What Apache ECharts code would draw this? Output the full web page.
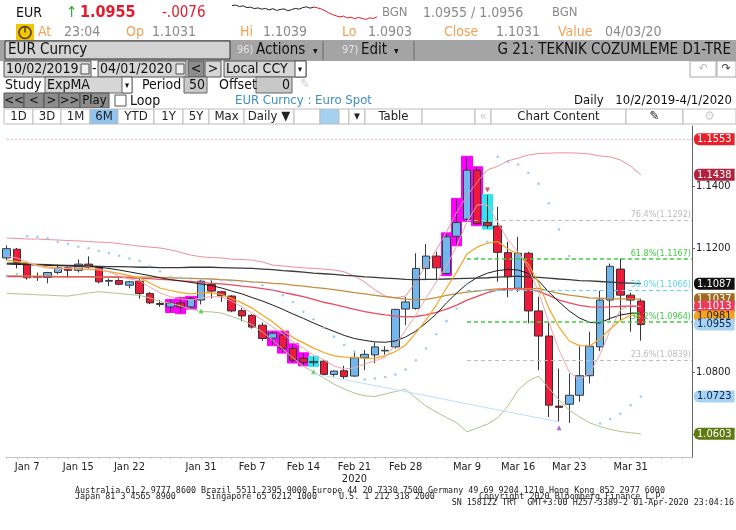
<!DOCTYPE html>
<html>
<head>
<meta charset="utf-8">
<script src="https://cdn.jsdelivr.net/npm/echarts@6/dist/echarts.min.js"></script>
<style>
html,body{margin:0;padding:0;background:#fff}
#chart{width:736px;height:530px}
</style>
</head>
<body>
<div id="chart"></div>
<script>
// trading days shown on the chart
var dates = ['Jan 3','Jan 6','Jan 7','Jan 8','Jan 9','Jan 10','Jan 14','Jan 15','Jan 16','Jan 17',
  'Jan 20','Jan 21','Jan 22','Jan 23','Jan 24','Jan 27','Jan 28','Jan 29','Jan 30','Jan 31',
  'Feb 3','Feb 4','Feb 5','Feb 6','Feb 7','Feb 10','Feb 11','Feb 12','Feb 13','Feb 14',
  'Feb 17','Feb 18','Feb 19','Feb 20','Feb 21','Feb 24','Feb 25','Feb 26','Feb 27','Feb 28',
  'Mar 2','Mar 3','Mar 4','Mar 5','Mar 6','Mar 9','Mar 10','Mar 11','Mar 12','Mar 13',
  'Mar 16','Mar 17','Mar 18','Mar 19','Mar 20','Mar 23','Mar 24','Mar 25','Mar 26','Mar 27',
  'Mar 30','Mar 31','Apr 1'];
var xTickLabels = ['Jan 7','Jan 15','Jan 22','Jan 31','Feb 7','Feb 14','Feb 21','Feb 28','Mar 9','Mar 16','Mar 23','Mar 31'];
var yTicks = [1.08, 1.12, 1.14];

// open, close, low, high
var candles = [
  [1.1170,1.1200,1.1163,1.1210],[1.1198,1.1156,1.1136,1.1202],[1.1152,1.1106,1.1100,1.1157],
  [1.1108,1.1110,1.1096,1.1123],[1.1107,1.1123,1.1088,1.1125],[1.1123,1.1138,1.1117,1.1149],
  [1.1138,1.1130,1.1106,1.1142],[1.1130,1.1150,1.1123,1.1165],[1.1150,1.1139,1.1136,1.1175],
  [1.1139,1.1093,1.1088,1.1141],[1.1095,1.1097,1.1079,1.1104],[1.1097,1.1085,1.1082,1.1104],
  [1.1082,1.1093,1.1072,1.1096],[1.1095,1.1055,1.1039,1.1102],[1.1055,1.1025,1.1021,1.1060],
  [1.1023,1.1020,1.1012,1.1034],[1.1012,1.1024,1.0996,1.1034],[1.1025,1.1012,1.0992,1.1040],
  [1.1012,1.1039,1.1007,1.1044],[1.1034,1.1095,1.1020,1.1098],[1.1084,1.1063,1.1039,1.1098],
  [1.1061,1.1048,1.1028,1.1064],[1.1047,1.0999,1.0995,1.1050],[1.1000,1.0983,1.0966,1.1009],
  [1.0985,1.0947,1.0942,1.0988],[1.0953,1.0910,1.0902,1.0962],[1.0911,1.0927,1.0889,1.0932],
  [1.0921,1.0878,1.0865,1.0932],[1.0878,1.0840,1.0833,1.0891],[1.0846,1.0833,1.0824,1.0862],
  [1.0832,1.0836,1.0822,1.0851],[1.0837,1.0794,1.0790,1.0840],[1.0794,1.0805,1.0787,1.0807],
  [1.0806,1.0787,1.0780,1.0822],[1.0789,1.0848,1.0786,1.0865],[1.0848,1.0859,1.0808,1.0873],
  [1.0857,1.0883,1.0830,1.0897],[1.0870,1.0872,1.0858,1.0885],[1.0883,1.1004,1.0878,1.1006],
  [1.1005,1.1028,1.0953,1.1044],[1.1007,1.1136,1.1003,1.1185],[1.1136,1.1176,1.1098,1.1215],
  [1.1176,1.1138,1.1098,1.1190],[1.1120,1.1238,1.1115,1.1249],[1.1240,1.1284,1.1211,1.1360],
  [1.1295,1.1453,1.1290,1.1496],[1.1453,1.1281,1.1276,1.1462],[1.1284,1.1274,1.1265,1.1373],
  [1.1273,1.1188,1.1093,1.1335],[1.1187,1.1109,1.1043,1.1222],[1.1072,1.1185,1.1060,1.1238],
  [1.1185,1.0999,1.0959,1.1190],[1.0999,1.0918,1.0808,1.1045],[1.0918,1.0695,1.0657,1.0964],
  [1.0692,1.0688,1.0641,1.0813],[1.0698,1.0727,1.0638,1.0797],[1.0727,1.0790,1.0706,1.0885],
  [1.0790,1.0885,1.0765,1.0932],[1.0883,1.1034,1.0870,1.1064],[1.1034,1.1143,1.0969,1.1152],
  [1.1134,1.1050,1.0969,1.1168],[1.1050,1.1034,1.0932,1.1058],[1.1031,1.0955,1.0903,1.1039]
];
var hiMagenta = [16,17,18,26,27,28,29,43,44,45,46];
var hiCyan = [30,47];

var upperBand = [1.1234,1.1233,1.1231,1.1231,1.1229,1.1228,1.1226,1.1225,1.1223,1.1221,
  1.1220,1.1216,1.1212,1.1208,1.1205,1.1202,1.1196,1.1188,1.1179,1.1174,
  1.1171,1.1170,1.1166,1.1165,1.1163,1.1157,1.1147,1.1144,1.1141,1.1138,
  1.1136,1.1134,1.1131,1.1125,1.1112,1.1092,1.1067,1.1047,1.1041,1.1047,
  1.1092,1.1147,1.1196,1.1254,1.1318,1.1370,1.1415,1.1454,1.1466,1.1483,
  1.1492,1.1502,1.1507,1.1508,1.1509,1.1509,1.1508,1.1505,1.1499,1.1496,
  1.1486,1.1466,1.1438];
var lowerBand = [1.1056,1.1054,1.1053,1.1051,1.1050,1.1048,1.1047,1.1052,1.1057,1.1061,
  1.1058,1.1055,1.1052,1.1049,1.1041,1.1029,1.1024,1.1015,1.1005,1.0997,
  1.0996,1.0992,1.0981,1.0970,1.0954,1.0931,1.0905,1.0876,1.0847,1.0821,
  1.0802,1.0783,1.0763,1.0747,1.0734,1.0725,1.0723,1.0731,1.0739,1.0746,
  1.0718,1.0692,1.0673,1.0655,1.0638,1.0609,1.0621,1.0634,1.0654,1.0692,
  1.0744,1.0773,1.0789,1.0750,1.0712,1.0679,1.0657,1.0638,1.0626,1.0617,
  1.0610,1.0606,1.0603];
var maLong = [1.1153,1.1152,1.1150,1.1149,1.1148,1.1147,1.1146,1.1145,1.1144,1.1143,
  1.1142,1.1142,1.1141,1.1140,1.1140,1.1139,1.1139,1.1139,1.1140,1.1140,
  1.1140,1.1139,1.1138,1.1137,1.1136,1.1134,1.1132,1.1129,1.1127,1.1124,
  1.1121,1.1119,1.1117,1.1114,1.1112,1.1109,1.1107,1.1105,1.1103,1.1101,
  1.1100,1.1101,1.1101,1.1102,1.1103,1.1104,1.1105,1.1106,1.1108,1.1110,
  1.1111,1.1109,1.1107,1.1105,1.1102,1.1100,1.1097,1.1096,1.1094,1.1092,
  1.1090,1.1089,1.1087];
var maMid = [1.1150,1.1149,1.1148,1.1147,1.1146,1.1145,1.1144,1.1143,1.1142,1.1140,
  1.1136,1.1131,1.1125,1.1119,1.1113,1.1106,1.1100,1.1096,1.1091,1.1086,
  1.1081,1.1073,1.1063,1.1054,1.1042,1.1031,1.1018,1.1004,1.0989,1.0975,
  1.0960,1.0946,1.0933,1.0920,1.0910,1.0904,1.0899,1.0898,1.0902,1.0915,
  1.0934,1.0960,1.0989,1.1025,1.1057,1.1086,1.1107,1.1121,1.1129,1.1133,
  1.1131,1.1120,1.1096,1.1060,1.1028,1.0999,1.0976,1.0962,1.0960,1.0975,
  1.0986,1.0991,1.0993];
var maRed = [1.1110,1.1110,1.1109,1.1109,1.1109,1.1109,1.1109,1.1109,1.1109,1.1108,
  1.1108,1.1107,1.1106,1.1104,1.1103,1.1101,1.1099,1.1096,1.1094,1.1091,
  1.1088,1.1086,1.1083,1.1079,1.1076,1.1071,1.1066,1.1059,1.1052,1.1045,
  1.1036,1.1027,1.1020,1.1012,1.1004,1.0997,1.0991,1.0986,1.0982,1.0980,
  1.0981,1.0986,1.0994,1.1005,1.1018,1.1034,1.1046,1.1058,1.1066,1.1070,
  1.1070,1.1068,1.1062,1.1049,1.1034,1.1025,1.1017,1.1012,1.1011,1.1012,
  1.1014,1.1015,1.1013];
var maBrown = [1.1112,1.1112,1.1111,1.1111,1.1111,1.1110,1.1110,1.1110,1.1110,1.1109,
  1.1109,1.1109,1.1108,1.1108,1.1108,1.1107,1.1106,1.1105,1.1104,1.1103,
  1.1102,1.1100,1.1098,1.1096,1.1093,1.1091,1.1088,1.1086,1.1082,1.1079,
  1.1075,1.1072,1.1068,1.1063,1.1058,1.1054,1.1049,1.1045,1.1041,1.1037,
  1.1035,1.1036,1.1042,1.1049,1.1055,1.1060,1.1063,1.1067,1.1070,1.1071,
  1.1071,1.1071,1.1072,1.1063,1.1056,1.1050,1.1046,1.1041,1.1040,1.1038,
  1.1038,1.1038,1.1037];
var maOrange = [1.1163,1.1158,1.1154,1.1147,1.1141,1.1137,1.1136,1.1134,1.1133,1.1131,
  1.1126,1.1120,1.1113,1.1105,1.1089,1.1073,1.1065,1.1058,1.1054,1.1057,
  1.1058,1.1052,1.1039,1.1025,1.1008,1.0986,1.0963,1.0937,1.0913,1.0896,
  1.0879,1.0865,1.0854,1.0850,1.0849,1.0846,1.0847,1.0854,1.0868,1.0889,
  1.0928,1.0970,1.1018,1.1073,1.1125,1.1183,1.1205,1.1218,1.1223,1.1199,
  1.1183,1.1150,1.1089,1.1008,1.0947,1.0902,1.0887,1.0886,1.0909,1.0941,
  1.0968,1.0985,1.0981];
var maFast = [1.1176,1.1170,1.1157,1.1144,1.1137,1.1134,1.1136,1.1139,1.1141,1.1134,
  1.1125,1.1112,1.1102,1.1096,1.1076,1.1057,1.1045,1.1038,1.1034,1.1041,
  1.1045,1.1044,1.1031,1.1012,1.0992,1.0970,1.0947,1.0925,1.0899,1.0879,
  1.0857,1.0841,1.0821,1.0812,1.0815,1.0828,1.0838,1.0850,1.0889,1.0937,
  1.0986,1.1041,1.1092,1.1144,1.1209,1.1286,1.1341,1.1341,1.1286,1.1228,
  1.1189,1.1137,1.1060,1.0963,1.0873,1.0802,1.0776,1.0799,1.0857,1.0937,
  1.1002,1.1018,1.1013];
var sar = [1.1112,1.1118,1.1240,1.1238,1.1233,1.1222,1.1215,1.1206,1.1201,1.1193,
  1.1186,1.1177,1.1168,1.1160,1.1144,1.1127,1.1109,1.1106,1.1104,1.1102,
  1.1100,1.1098,1.1096,1.1094,1.1092,1.1082,1.1066,1.1050,1.1028,1.0996,
  1.0972,1.0945,1.0916,1.0889,1.0868,1.0778,1.0781,1.0786,1.0794,1.0810,
  1.0840,1.0878,1.0924,1.0966,1.1007,1.1085,1.1170,1.1222,1.1496,1.1480,
  1.1471,1.1444,1.1409,1.1346,1.1262,1.1176,null,null,1.0636,1.0650,
  1.0667,1.0695,1.0723];

var fibNames = ['76.4%','61.8%','50.0%','38.2%','23.6%'];
var fibLevels = [1.1292, 1.1167, 1.1066, 1.0964, 1.0839];
var fibColors = ['#bdbdbd','#3fcf3f','#5cd4ee','#3fcf3f','#bdbdbd'];
var fibStart = 45;
var trendFrom = [30, 1.0797];
var trendTo = [54, 1.0641];
var signalsUp = [[19, 1.0999], [30, 1.0803]];
var signalsDown = [[47, 1.1389]];
var signalsPurple = [[54, 1.0622]];

var boxValues = [1.1553, 1.1438, 1.1087, 1.1037, 1.1013, 1.0981, 1.0955, 1.0723, 1.0603];
var boxFills = ['#e8202a','#b2223c','#111111','#a06a1e','#ec3a5a','#f6a31c','#a6d2f6','#a6d2f6','#5d7b12'];
var boxTexts = ['#fff','#fff','#fff','#fff','#fff','#222','#0c2440','#0c2440','#fff'];

// intraday sparkline in the header
var spark = [10,10.2,9.6,9.9,9.2,9.4,8.8,9.1,8.6,8.9,8.3,8.8,8.1,8.5,8.7,8.0,8.4,8.9,8.6,9.2,9.5,9.0,9.4,
  9.1,8.7,8.0,7.2,6.5,6.0,5.6,5.9,5.2,5.5,4.9,5.4,5.0,4.6,5.2,5.0,5.6];
var sparkSplit = 22;

var F = "'DejaVu Sans Condensed','DejaVu Sans',sans-serif";
var M = "'DejaVu Sans Mono',monospace";

function txt(x, y, s, color, size, align, bold) {
  return { type: 'text', x: x, y: y, silent: true, z: 10,
    style: { text: s, fill: color, font: (bold ? 'bold ' : '') + size + 'px ' + F,
      textAlign: align || 'left', textVerticalAlign: 'middle' } };
}
function mono(x, y, s, align) {
  return { type: 'text', x: x, y: y, silent: true, z: 10,
    style: { text: s, fill: '#222', font: '8.4px ' + M, textAlign: align || 'left', textVerticalAlign: 'middle' } };
}
function box(x, y, w, h, fill, stroke) {
  return { type: 'rect', silent: true, z: 9, shape: { x: x, y: y, width: w, height: h },
    style: { fill: fill, stroke: stroke || null, lineWidth: 1 } };
}

var g = [];
// quote line
g.push(txt(16, 13, 'EUR', '#111', 14));
g.push(txt(66, 13, '↑', '#2fa52f', 15));
g.push(txt(80, 13, '1.0955', '#e8192c', 16, 'left', true));
g.push(txt(162, 13, '-.0076', '#e8192c', 15));
g.push(txt(382, 13, 'BGN', '#8a8a8a', 13));
g.push(txt(423, 13, '1.0955 / 1.0956', '#8a8a8a', 14));
g.push(txt(552, 13, 'BGN', '#8a8a8a', 13));
// second line
g.push(box(16, 24, 18, 17, '#f3c500'));
g.push({ type: 'circle', silent: true, z: 10, shape: { cx: 25, cy: 32.5, r: 6 }, style: { fill: 'none', stroke: '#4a3a00', lineWidth: 1.6 } });
g.push({ type: 'line', silent: true, z: 10, shape: { x1: 25, y1: 32.5, x2: 25, y2: 27 }, style: { stroke: '#4a3a00', lineWidth: 1.4 } });
var org = '#f5a052', gry = '#8a8a8a';
[[38, 'At', 64, '23:04'], [126, 'Op', 152, '1.1031'], [240, 'Hi', 263, '1.1039'],
 [342, 'Lo', 368, '1.0903'], [444, 'Close', 496, '1.1031'], [558, 'Value', 605, '04/03/20']].forEach(function (p) {
  g.push(txt(p[0], 32, p[1], org, 14));
  g.push(txt(p[2], 32, p[3], gry, 14));
});
// toolbar
g.push(box(0, 40, 736, 21, '#a4a4a4'));
g.push(box(5, 41, 225, 18, '#d2d2d2', '#333'));
g.push(txt(8, 50, 'EUR Curncy', '#111', 15));
g.push({ type: 'line', silent: true, z: 10, shape: { x1: 323, y1: 41, x2: 323, y2: 60 }, style: { stroke: '#666' } });
g.push({ type: 'line', silent: true, z: 10, shape: { x1: 414, y1: 41, x2: 414, y2: 60 }, style: { stroke: '#666' } });
g.push(txt(237, 50, '96)', '#e4e4e4', 11));
g.push(txt(256, 50, 'Actions', '#111', 15));
g.push(txt(313, 51, '▾', '#111', 10));
g.push(txt(342, 50, '97)', '#e4e4e4', 11));
g.push(txt(361, 50, 'Edit', '#111', 15));
g.push(txt(394, 51, '▾', '#111', 10));
g.push(txt(731, 50, 'G 21: TEKNIK COZUMLEME D1-TRE', '#111', 15, 'right'));
// date range row
g.push(box(4, 61, 87, 16, '#d6d6d6', '#555'));
g.push(txt(6, 69, '10/02/2019', '#111', 14));
g.push(box(81, 64, 8, 10, '#eee', '#555'));
g.push(txt(92, 69, '-', '#111', 14));
g.push(box(98, 61, 88, 16, '#d6d6d6', '#555'));
g.push(txt(100, 69, '04/01/2020', '#111', 14));
g.push(box(176, 64, 8, 10, '#eee', '#555'));
g.push(box(188, 61, 16, 16, '#8c8c8c', '#555'));
g.push(txt(196, 69, '<', '#111', 14, 'center'));
g.push(box(205, 61, 16, 16, '#d6d6d6', '#555'));
g.push(txt(213, 69, '>', '#111', 14, 'center'));
g.push(box(224, 61, 82, 16, '#d6d6d6', '#555'));
g.push(txt(226, 69, 'Local CCY', '#111', 14));
g.push(box(295, 61, 11, 16, '#fff', '#555'));
g.push(txt(300, 70, '▾', '#111', 9, 'center'));
g.push(box(690, 61, 26, 16, '#fff', '#aaa'));
g.push(txt(703, 69, '↶', '#bbb', 12, 'center'));
g.push(box(717, 61, 19, 16, '#fff', '#aaa'));
g.push(txt(726, 69, '↷', '#444', 12, 'center'));
// study row
g.push(txt(5, 85, 'Study', '#111', 14));
g.push(box(45, 77, 87, 16, '#d6d6d6', '#666'));
g.push(txt(47, 85, 'ExpMA', '#111', 14));
g.push(box(122, 77, 10, 16, '#fff', '#666'));
g.push(txt(127, 86, '▾', '#111', 9, 'center'));
g.push(txt(142, 85, 'Period', '#111', 14));
g.push(box(184, 77, 23, 16, '#c8c8c8', '#666'));
g.push(txt(205, 85, '50', '#111', 14, 'right'));
g.push(txt(219, 85, 'Offset', '#111', 14));
g.push(box(256, 77, 36, 16, '#c8c8c8', '#666'));
g.push(txt(290, 85, '0', '#111', 14, 'right'));
g.push(txt(300, 85, '✎', '#cfcfcf', 13));
// play row
[[4, 20, '<<'], [24, 20, '<'], [44, 15, '>'], [59, 21, '>>'], [80, 29, 'Play']].forEach(function (b) {
  g.push(box(b[0], 93, b[1], 15, '#8c8c8c', '#555'));
  g.push(txt(b[0] + b[1] / 2, 101, b[2], '#111', 13, 'center'));
});
g.push(box(115, 95, 11, 11, '#fff', '#555'));
g.push(txt(130, 101, 'Loop', '#111', 14));
g.push(txt(235, 101, 'EUR Curncy : Euro Spot', '#3d8fc8', 13));
g.push(txt(574, 101, 'Daily', '#111', 13));
g.push(txt(732, 101, '10/2/2019-4/1/2020', '#111', 13, 'right'));
// tab bar
g.push(box(0, 108, 736, 17, '#fff'));
[[4, 33, '1D'], [33, 61, '3D'], [61, 90, '1M'], [90, 118, '6M', '#8ec4ef'], [118, 154, 'YTD'],
 [154, 183, '1Y'], [183, 209, '5Y'], [209, 244, 'Max'], [244, 294, 'Daily ▼'], [294, 320, ''],
 [320, 339, '', '#a4d0f2'], [339, 349, ''], [349, 365, '▾'], [365, 422, 'Table'], [422, 475, ''],
 [475, 491, '«'], [491, 626, 'Chart Content'], [626, 683, '✎'], [683, 736, '⚙']].forEach(function (c) {
  g.push(box(c[0], 109, c[1] - c[0], 15, c[3] || '#fff', '#bdbdbd'));
  if (c[2]) g.push(txt((c[0] + c[1]) / 2, 117, c[2], c[2] === '«' || c[2] === '⚙' ? '#ccc' : '#222', 13, 'center'));
});
// footer
g.push(mono(75, 491, 'Australia 61 2 9777 8600 Brazil 5511 2395 9000 Europe 44 20 7330 7500 Germany 49 69 9204 1210 Hong Kong 852 2977 6000'));
g.push(mono(75, 497, 'Japan 81 3 4565 8900'));
g.push(mono(206, 497, 'Singapore 65 6212 1000'));
g.push(mono(339, 497, 'U.S. 1 212 318 2000'));
g.push(mono(479, 497, 'Copyright 2020 Bloomberg Finance L.P.'));
g.push(mono(734, 503, 'SN 158122 TRT  GMT+3:00 H257-3389-2 01-Apr-2020 23:04:16', 'right'));

// categories: trading days plus empty room on the right
var cats = dates.slice();
for (var k = 1; k <= 5; k++) cats.push('blank' + k);

function highlight(list) {
  return candles.map(function (c, i) {
    if (list.indexOf(i) < 0) return '-';
    return [c[2] - 0.0002, c[3] + 0.0002, c[2] - 0.0002, c[3] + 0.0002];
  });
}
function line(name, data, color, width) {
  return { name: name, type: 'line', data: data, symbol: 'none', silent: true, z: 3,
    lineStyle: { color: color, width: width } };
}

var fibLines = fibLevels.map(function (lv, i) {
  return [{ coord: [fibStart, lv],
      lineStyle: { color: fibColors[i], type: [4, 3], width: i % 2 ? 1.5 : 1 },
      label: { show: true, position: 'insideEndTop', distance: 1, formatter: fibNames[i] + '(' + lv.toFixed(4) + ')',
        color: fibColors[i], fontSize: 9, fontFamily: F } },
    { coord: [cats.length - 1, lv] }];
});
// value boxes right of the axis, one per study end value
var boxLines = boxValues.map(function (v, i) {
  return [{ coord: [0, v],
      lineStyle: i === 0 ? { color: '#f5b4b4', type: [2, 2], width: 1 } : { color: 'rgba(255,255,255,0)', width: 1 },
      label: { show: true, position: 'end', distance: 2, formatter: v.toFixed(4), color: boxTexts[i],
        backgroundColor: boxFills[i], padding: [1, 3, 0, 3], borderRadius: [5, 0, 0, 5],
        fontSize: 11, fontFamily: F, opacity: 1 } },
    { coord: [cats.length - 1, v] }];
});

var chart = echarts.init(document.getElementById('chart'));
chart.setOption({
  animation: false,
  backgroundColor: '#fff',
  graphic: g,
  grid: [
    { left: 6.7, right: 44, top: 126, bottom: 73 },
    { left: 232, top: 3, width: 145, height: 18 }
  ],
  xAxis: [{
    type: 'category', data: cats, boundaryGap: false,
    axisLine: { lineStyle: { color: '#c4c4c4' } },
    axisTick: { show: true, interval: 0, length: 2, lineStyle: { color: '#c4c4c4' } },
    axisLabel: {
      interval: function (i, v) { return xTickLabels.indexOf(v) >= 0; },
      formatter: function (v) { return v === 'Feb 21' ? v + '\n2020' : v; },
      color: '#222', fontSize: 11, fontFamily: F, margin: 4, lineHeight: 12
    },
    splitLine: { show: false }
  }, {
    gridIndex: 1, type: 'category', show: false, boundaryGap: false,
    data: spark.map(function (v, i) { return i; })
  }],
  yAxis: [{
    type: 'value', position: 'right', min: 1.05278, max: 1.15956,
    splitLine: { show: false },
    axisLine: { show: true, lineStyle: { color: '#666' } },
    axisTick: { show: true, length: 3, customValues: [1.06, 1.08, 1.10, 1.12, 1.14], lineStyle: { color: '#666' } },
    axisLabel: { customValues: yTicks, formatter: function (v) { return v.toFixed(4); },
      color: '#222', fontSize: 11, fontFamily: F, margin: 4 }
  }, {
    gridIndex: 1, type: 'value', show: false, scale: true
  }],
  series: [
    { name: 'hiM', type: 'candlestick', data: highlight(hiMagenta), barWidth: 11, clip: false, silent: true, z: 1,
      itemStyle: { color: '#ff00ff', color0: '#ff00ff', borderColor: '#ff00ff', borderColor0: '#ff00ff' } },
    { name: 'hiC', type: 'candlestick', data: highlight(hiCyan), barWidth: 11, clip: false, silent: true, z: 1,
      itemStyle: { color: '#2fe6ef', color0: '#2fe6ef', borderColor: '#2fe6ef', borderColor0: '#2fe6ef' } },
    { name: 'EUR', type: 'candlestick', data: candles, barWidth: 8, clip: false, silent: true, z: 2,
      itemStyle: { color: '#72b6ee', color0: '#ee1a3c', borderColor: '#363c44', borderColor0: '#3a3030', borderWidth: 1 } },
    line('upper', upperBand, '#ec8f9c', 1),
    line('lower', lowerBand, '#aec48a', 1),
    line('long', maLong, '#3a3a3a', 1.3),
    line('brown', maBrown, '#c48d3e', 1.3),
    line('red', maRed, '#ea4b60', 1.3),
    line('mid', maMid, '#1e1e1e', 1),
    line('orange', maOrange, '#f6a526', 1.2),
    line('fast', maFast, '#f4a4ac', 1),
    { name: 'levels', type: 'line', data: [], silent: true, z: 2,
      markLine: { silent: true, symbol: ['none', 'none'], data: fibLines.concat([[
        { coord: trendFrom, lineStyle: { color: '#bfe0f7', type: 'solid', width: 1 }, label: { show: false } },
        { coord: trendTo }]]) } },
    { name: 'boxes', type: 'line', data: [], silent: true, z: 5,
      markLine: { silent: true, symbol: ['none', 'none'], data: boxLines } },
    { name: 'sar', type: 'scatter', data: sar, symbol: 'circle', symbolSize: 2.6, silent: true, z: 4,
      itemStyle: { color: '#86c2f2' } },
    { name: 'sigUp', type: 'scatter', data: signalsUp, symbol: 'triangle', symbolSize: 5, silent: true, z: 4,
      itemStyle: { color: '#3fcf3f' } },
    { name: 'sigDown', type: 'scatter', data: signalsDown, symbol: 'triangle', symbolRotate: 180, symbolSize: 5, silent: true, z: 4,
      itemStyle: { color: '#e8202a' } },
    { name: 'sigPurple', type: 'scatter', data: signalsPurple, symbol: 'triangle', symbolSize: 5, silent: true, z: 4,
      itemStyle: { color: '#9b3fd0' } },
    { name: 'sparkA', type: 'line', xAxisIndex: 1, yAxisIndex: 1, symbol: 'none', silent: true,
      data: spark.map(function (v, i) { return i <= sparkSplit ? v : null; }), lineStyle: { color: '#222', width: 1 } },
    { name: 'sparkB', type: 'line', xAxisIndex: 1, yAxisIndex: 1, symbol: 'none', silent: true,
      data: spark.map(function (v, i) { return i >= sparkSplit ? v : null; }), lineStyle: { color: '#e8192c', width: 1 } }
  ]
});
</script>
</body>
</html>
